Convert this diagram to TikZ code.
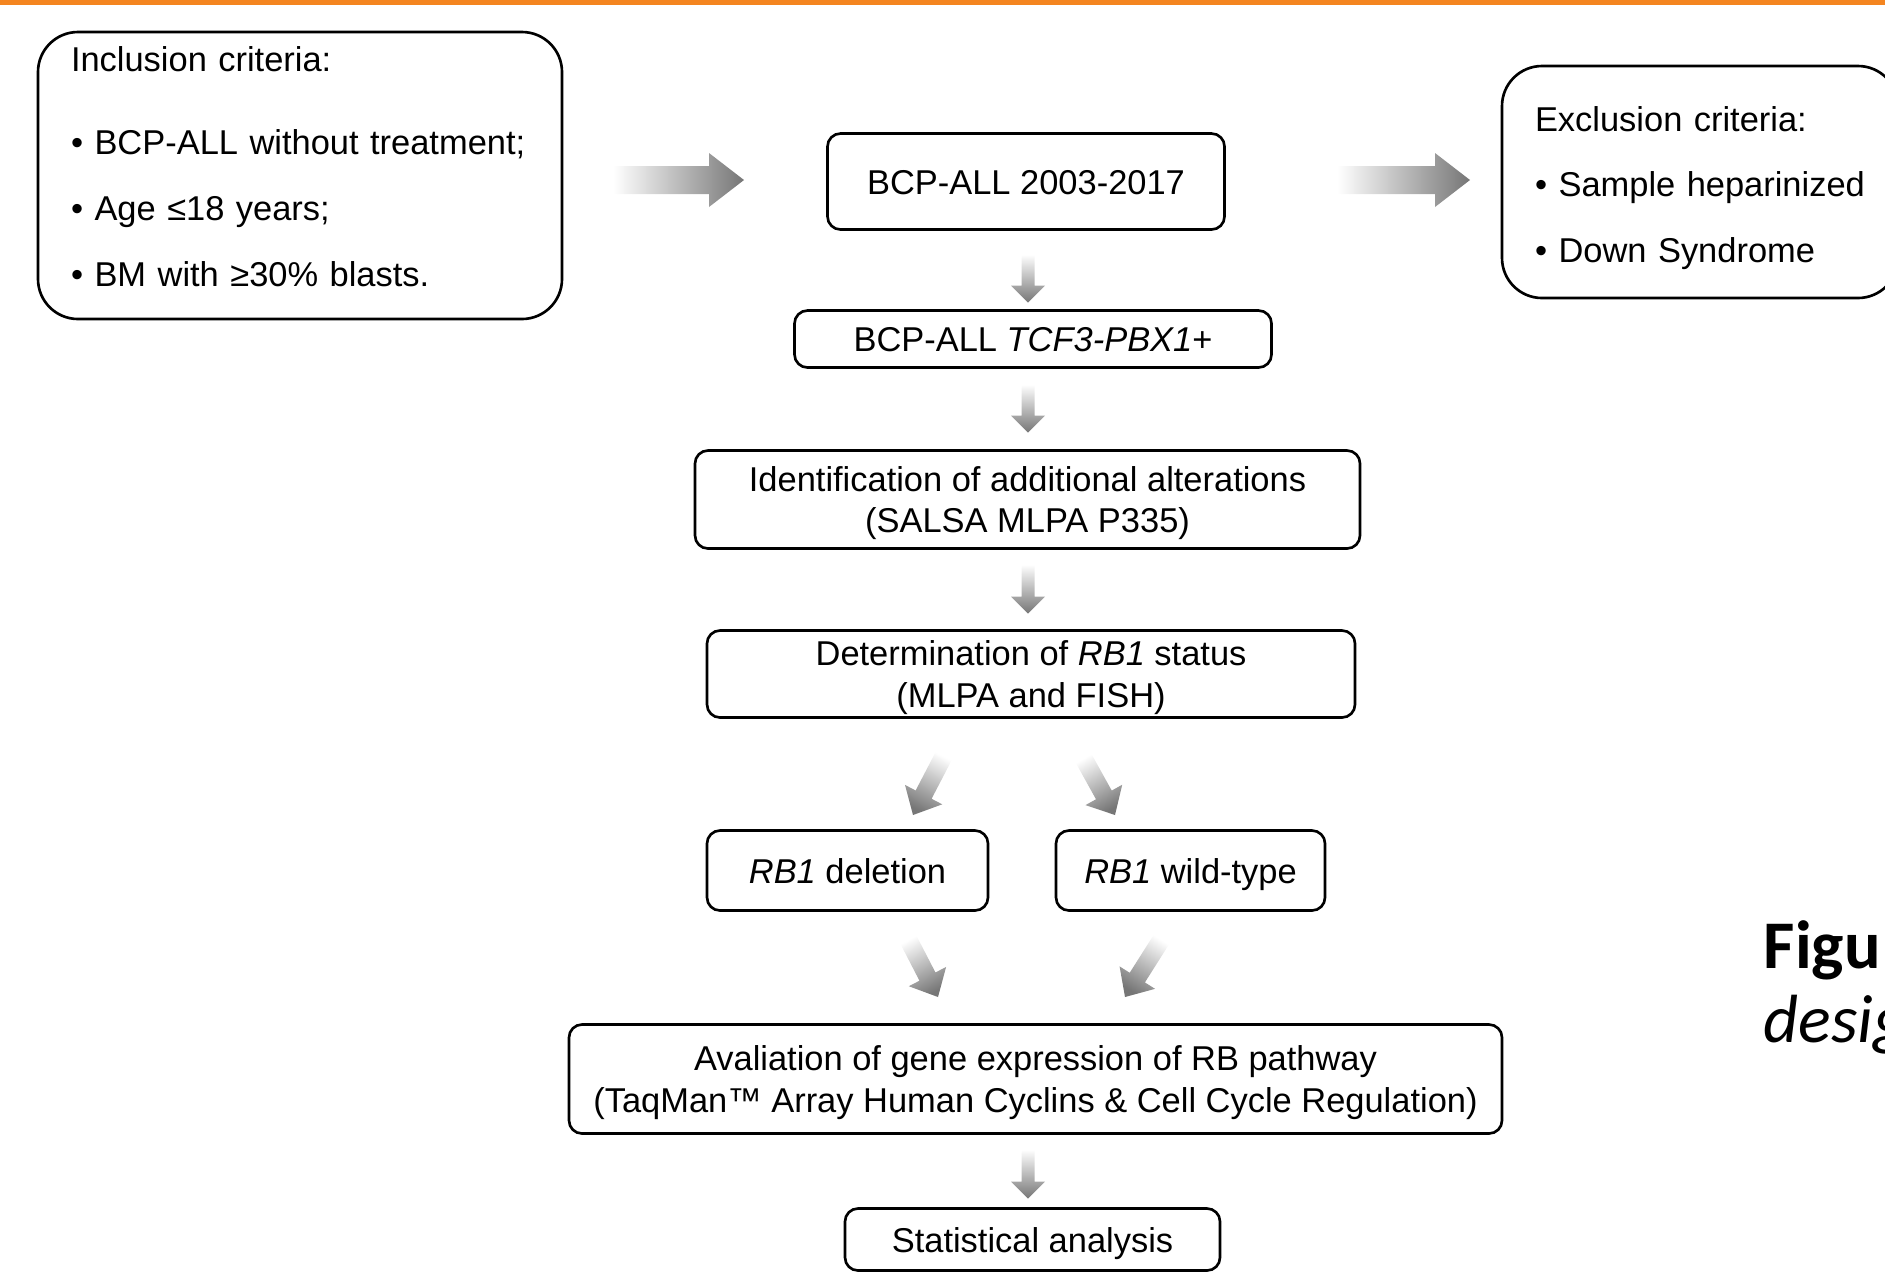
\documentclass[tikz,border=0pt]{standalone}
\usepackage{fontspec}
\setmainfont{Liberation Sans}
\newfontfamily\figfont{Carlito}
\usetikzlibrary{positioning,calc}
\definecolor{topbar}{RGB}{244,133,32}
\definecolor{arrowgray}{RGB}{118,118,118}

% shaded block arrow: shading angle, half shaft, half head, head length, tail, tip
\newcommand{\fadearrow}[6]{%
  \coordinate (fa-n) at ($(#6)!#4!(#5)$);
  \shade[top color=white, bottom color=arrowgray, shading angle=#1]
    ($(#5)!#2!90:(#6)$) -- ($(fa-n)!#2!90:(#6)$) -- ($(fa-n)!#3!90:(#6)$) -- (#6)
    -- ($(fa-n)!#3!-90:(#6)$) -- ($(fa-n)!#2!-90:(#6)$) -- ($(#5)!#2!-90:(#6)$) -- cycle;
}

\begin{document}
\begin{tikzpicture}[
    box/.style={draw, rectangle, rounded corners=0.13cm, line width=0.75pt, align=center, inner sep=0pt, outer sep=0pt},
    oneline/.style={box, text height=0.25cm, text depth=0cm},
    twoline/.style={box, text depth=0cm},
    critbox/.style={draw, rectangle, rounded corners=0.4cm, line width=0.75pt, align=left, anchor=west,
        inner xsep=0.33cm, inner ysep=0pt, outer sep=0pt, font=\fontsize{9.8}{18.7}\selectfont},
    figtext/.style={anchor=base west, inner sep=0pt},
    node distance=0.82cm,
    font=\fontsize{9.8}{11.8}\selectfont
]
    \useasboundingbox (0,0) rectangle (18.85,-12.72);
    \clip (0,0) rectangle (18.85,-12.72);
    \fill[topbar] (0,0) rectangle (18.85,-0.045);

    % criteria
    \node[critbox, text width=4.58cm, minimum height=2.87cm, text depth=66.5pt] (incl) at (0.38,-1.755)
        {Inclusion criteria:\\[0.18cm] •~BCP-ALL~without~treatment;\\ •~Age~≤18~years;\\ •~BM~with~≥30\%~blasts.};
    \node[critbox, text width=3.3cm, minimum height=2.32cm, text depth=36pt] (excl) at (15.02,-1.82)
        {Exclusion criteria:\\ •~Sample~heparinized\\ •~Down~Syndrome};

    % main flow
    \node[oneline, minimum width=3.97cm, minimum height=0.96cm] (bcp) at (10.26,-1.815) {BCP-ALL 2003-2017};
    \node[oneline, minimum width=4.77cm, minimum height=0.57cm, below=0.81cm of bcp, xshift=0.07cm] (tcf) {BCP-ALL \textit{TCF3-PBX1}+};
    \node[twoline, minimum width=6.65cm, minimum height=0.98cm, below=0.83cm of tcf, xshift=-0.055cm] (ident) {Identification of additional alterations\\(SALSA MLPA P335)};
    \node[twoline, minimum width=6.48cm, minimum height=0.87cm, below=0.82cm of ident, xshift=0.035cm] (det) {Determination of \textit{RB1} status\\(MLPA and FISH)};
    \node[oneline, minimum width=2.81cm, minimum height=0.80cm, below=1.13cm of det.south west, anchor=north west] (rbdel) {\textit{RB1} deletion};
    \node[oneline, minimum width=2.69cm, minimum height=0.80cm, right=0.68cm of rbdel] (rbwt) {\textit{RB1} wild-type};
    \node[twoline, minimum width=9.33cm, minimum height=1.09cm, anchor=north] (aval) at ($(det.south)+(0.045,-3.07)$)
        {Avaliation of gene expression of RB pathway\\(TaqMan™ Array Human Cyclins \& Cell Cycle Regulation)};
    \node[oneline, minimum width=3.75cm, minimum height=0.62cm, below=0.75cm of aval, xshift=-0.03cm] (stat) {Statistical analysis};

    % figure caption (cut off)
    \node[figtext, font=\figfont\fontsize{19.4}{19.4}\selectfont\bfseries] (figlabel) at (17.63,-9.68) {Figu};
    \node[figtext, font=\figfont\fontsize{19.4}{19.4}\selectfont\itshape] (figdesc) at (17.63,-10.42) {desig};

    % arrows
    \coordinate (a1s) at ($(incl.east)+(0.51,-0.045)$);
    \coordinate (a1e) at ($(bcp.west)+(-0.835,0.015)$);
    \coordinate (a2s) at ($(bcp.east)+(1.125,0.015)$);
    \coordinate (a2e) at ($(excl.west)+(-0.32,0.02)$);
    \fadearrow{90}{0.14cm}{0.27cm}{0.35cm}{a1s}{a1e}
    \fadearrow{90}{0.14cm}{0.27cm}{0.35cm}{a2s}{a2e}

    \coordinate (d1s) at ($(bcp.south)+(0.02,-0.25)$);
    \coordinate (d1e) at ($(tcf.north)+(-0.05,0.08)$);
    \coordinate (d2s) at ($(tcf.south)+(-0.05,-0.17)$);
    \coordinate (d2e) at ($(ident.north)+(0.005,0.18)$);
    \coordinate (d3s) at ($(ident.south)+(0.005,-0.16)$);
    \coordinate (d3e) at ($(det.north)+(-0.03,0.17)$);
    \coordinate (d4s) at ($(aval.south)+(-0.075,-0.16)$);
    \coordinate (d4e) at ($(stat.north)+(-0.045,0.10)$);
    \foreach \s/\e in {d1s/d1e, d2s/d2e, d3s/d3e, d4s/d4e}{
        \fadearrow{0}{0.065cm}{0.17cm}{0.17cm}{\s}{\e}
    }

    \coordinate (r1s) at ($(det.south)+(-0.86,-0.36)$);
    \coordinate (r1e) at ($(rbdel.north)+(0.655,0.155)$);
    \coordinate (r2s) at ($(det.south)+(0.51,-0.38)$);
    \coordinate (r2e) at ($(rbwt.north)+(-0.755,0.155)$);
    \coordinate (r3s) at ($(rbdel.south)+(0.595,-0.265)$);
    \coordinate (r3e) at ($(aval.north)+(-0.975,0.275)$);
    \coordinate (r4s) at ($(rbwt.south)+(-0.275,-0.265)$);
    \coordinate (r4e) at ($(aval.north)+(0.895,0.275)$);
    \fadearrow{-27}{0.09cm}{0.21cm}{0.23cm}{r1s}{r1e}
    \fadearrow{30}{0.09cm}{0.21cm}{0.23cm}{r2s}{r2e}
    \fadearrow{28}{0.09cm}{0.21cm}{0.23cm}{r3s}{r3e}
    \fadearrow{-32}{0.09cm}{0.21cm}{0.23cm}{r4s}{r4e}
\end{tikzpicture}
\end{document}
